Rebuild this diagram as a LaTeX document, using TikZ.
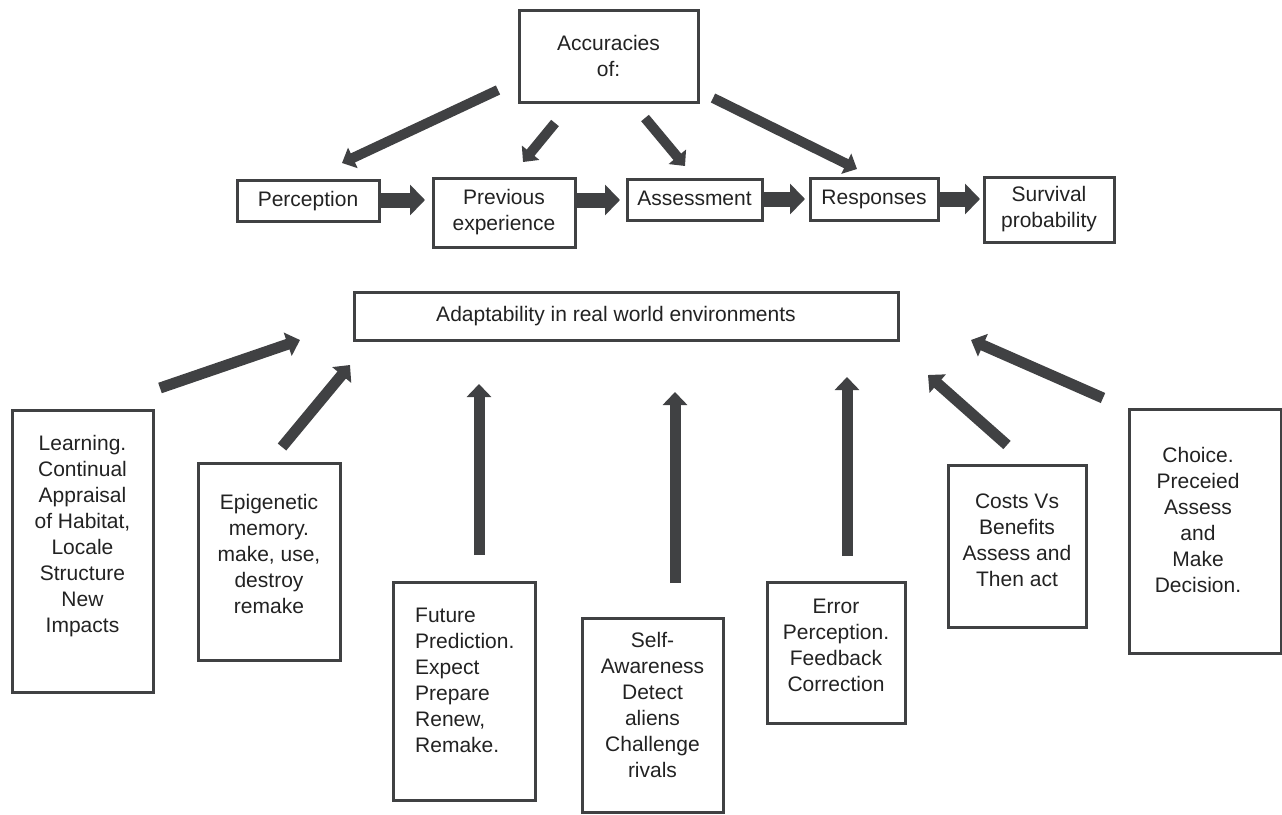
\documentclass[tikz,border=0pt]{standalone}
\usepackage{fontspec}
\setmainfont{Liberation Sans}
\usetikzlibrary{arrows.meta}
\definecolor{ink}{HTML}{404143}
\definecolor{txt}{HTML}{222222}
\begin{document}
\begin{tikzpicture}[x=1pt,y=-1pt,
  font=\fontsize{21}{26}\selectfont,
  box/.style={draw=ink,line width=3pt,inner sep=0pt,align=center,text=txt},
  onebox/.style={box,text height=15pt,text depth=4pt},
  lbl/.style={inner sep=0pt,align=center,text=txt},
  toparrow/.style={draw=ink,line width=10pt,-{Triangle[width=22pt,length=12pt]}},
  blockarrow/.style={draw=ink,line width=15pt,-{Triangle[width=30pt,length=15pt]}},
  uparrow/.style={draw=ink,line width=11pt,-{Triangle[width=24pt,length=13pt]}}]
\useasboundingbox (0,0) rectangle (1282,814);
% top row
\node[box,minimum width=179pt,minimum height=92pt] (acc) at (608.5,56) {Accuracies\\of:};
\node[onebox,minimum width=142pt,minimum height=41pt] (perc) at (308,200.5) {Perception};
\node[box,minimum width=142pt,minimum height=69pt] (prev) at (504,212.5) {Previous\\experience};
\node[onebox,minimum width=135pt,minimum height=41pt] (asse) at (694.5,199.5) {Assessment};
\node[onebox,minimum width=128pt,minimum height=42pt] (resp) at (874,199) {Responses};
\node[box,minimum width=130pt,minimum height=65pt] (surv) at (1049,209.5) {Survival\\probability};
% middle
\node[box,minimum width=544pt,minimum height=48pt] (adap) at (626,316) {};
\node[lbl] (adapt) at (616,316) {Adaptability in real world environments};
% bottom boxes
\node[box,minimum width=141pt,minimum height=282pt] (learn) at (82.5,551) {};
\node[lbl] (learnt) at (82.5,536) {Learning.\\Continual\\Appraisal\\of Habitat,\\Locale\\Structure\\New\\Impacts};
\node[box,minimum width=142pt,minimum height=197pt] (epi) at (269,561.5) {};
\node[lbl] (epit) at (269,554) {Epigenetic\\memory.\\make, use,\\destroy\\remake};
\node[box,minimum width=142pt,minimum height=218pt] (fut) at (464,691) {};
\node[lbl,align=left,anchor=west] (futt) at (415,680) {Future\\Prediction.\\Expect\\Prepare\\Renew,\\Remake.};
\node[box,minimum width=141pt,minimum height=194pt] (self) at (652.5,715) {};
\node[lbl] (selft) at (652.5,705) {Self-\\Awareness\\Detect\\aliens\\Challenge\\rivals};
\node[box,minimum width=138pt,minimum height=141pt] (err) at (836,652.5) {};
\node[lbl] (errt) at (836,645) {Error\\Perception.\\Feedback\\Correction};
\node[box,minimum width=138pt,minimum height=162pt] (cost) at (1017,546) {};
\node[lbl] (costt) at (1017,540) {Costs Vs\\Benefits\\Assess and\\Then act};
\node[box,minimum width=152pt,minimum height=244pt] (choi) at (1205,531) {};
\node[lbl] (choit) at (1198,520) {Choice.\\Preceied\\Assess\\and\\Make\\Decision.};
% connector end points
\coordinate (a1s) at (498,90);  \coordinate (a1e) at (342,163);
\coordinate (a2s) at (555,123); \coordinate (a2e) at (523,162);
\coordinate (a3s) at (645,118); \coordinate (a3e) at (685,166);
\coordinate (a4s) at (713,98);  \coordinate (a4e) at (857,169);
\coordinate (h1e) at (425,200);
\coordinate (h2e) at (620,200);
\coordinate (h3e) at (805,199);
\coordinate (h4e) at (980,199);
\coordinate (b1s) at (160,388);  \coordinate (b1e) at (300,340);
\coordinate (b2s) at (282,447);  \coordinate (b2e) at (350,365);
\coordinate (b3s) at (479,555);  \coordinate (b3e) at (479,384);
\coordinate (b4s) at (675,583);  \coordinate (b4e) at (675,392);
\coordinate (b5s) at (847,556);  \coordinate (b5e) at (847,377);
\coordinate (b6s) at (1007,445); \coordinate (b6e) at (928,375);
\coordinate (b7s) at (1103,398); \coordinate (b7e) at (971,340);
% arrows from Accuracies
\draw[toparrow] (a1s) -- (a1e);
\draw[toparrow] (a2s) -- (a2e);
\draw[toparrow] (a3s) -- (a3e);
\draw[toparrow] (a4s) -- (a4e);
% chain
\draw[blockarrow] (perc.east |- h1e) -- (h1e);
\draw[blockarrow] (prev.east |- h2e) -- (h2e);
\draw[blockarrow] (asse.east |- h3e) -- (h3e);
\draw[blockarrow] (resp.east |- h4e) -- (h4e);
% arrows to Adaptability
\draw[uparrow] (b1s) -- (b1e);
\draw[uparrow] (b2s) -- (b2e);
\draw[uparrow] (b3s) -- (b3e);
\draw[uparrow] (b4s) -- (b4e);
\draw[uparrow] (b5s) -- (b5e);
\draw[uparrow] (b6s) -- (b6e);
\draw[uparrow] (b7s) -- (b7e);
\end{tikzpicture}
\end{document}
